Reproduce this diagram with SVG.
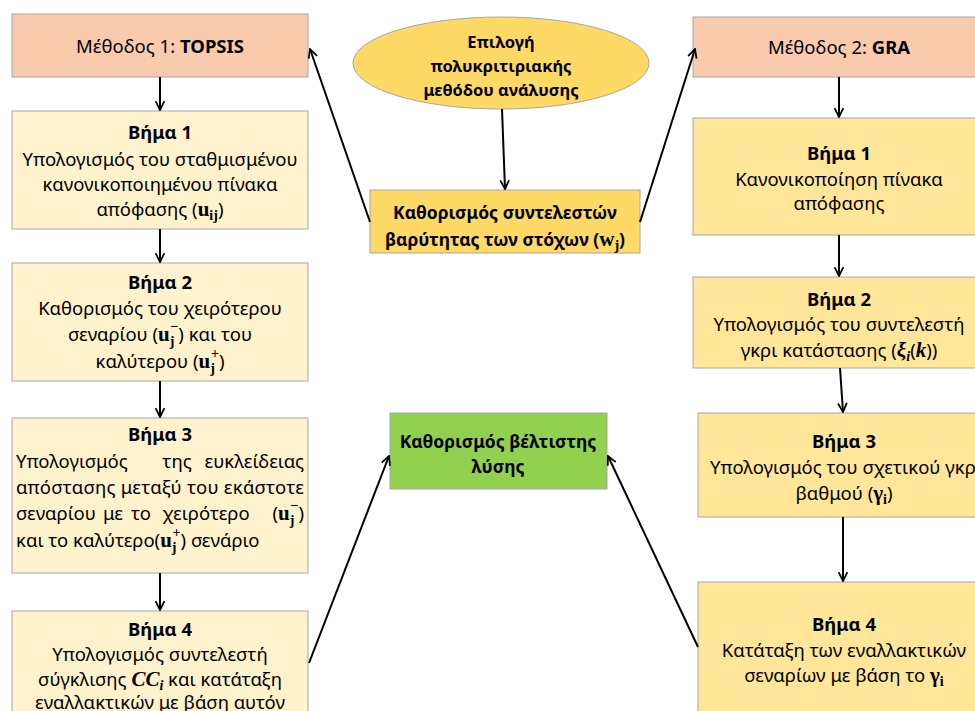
<svg xmlns="http://www.w3.org/2000/svg" width="975" height="711" viewBox="0 0 975 711">
<style>
.box{stroke:#A6A6A6;stroke-width:1}
.peach{fill:#F8CBAD}
.ly{fill:#FFF2CC}
.gy{fill:#FFE699}
.gold{fill:#FFD966}
.green{fill:#92D050}
.t{font-family:"Noto Sans","Open Sans",sans-serif;font-size:18.5px;fill:#000;text-anchor:middle}
.e{font-size:16.5px}
.cb{font-size:17.5px}
.l{text-anchor:start}
.r{text-anchor:end}
.b{font-weight:bold}
.m{font-family:"Liberation Serif","DejaVu Serif",serif;font-weight:bold;font-size:21px}
.mi{font-style:italic}
.s{font-size:14px}
.c{fill:none;stroke:#000;stroke-width:2}
</style>
<defs>
<marker id="ah" viewBox="0 0 10 10" refX="9" refY="5" markerWidth="11" markerHeight="13" markerUnits="userSpaceOnUse" orient="auto">
<path d="M1,1 L9,5 L1,9" fill="none" stroke="#000" stroke-width="1.6"/>
</marker>
</defs>
<rect width="975" height="711" fill="#fff"/>

<g id="method1">
<rect class="box peach" x="12" y="14" width="296" height="63"/>
<text class="t" x="160" y="53">Μέθοδος 1: <tspan class="b">TOPSIS</tspan></text>
</g>

<g id="l-step1">
<rect class="box ly" x="12" y="111" width="296" height="118"/>
<text class="t b" x="160" y="139">Βήμα 1</text>
<text class="t" x="160" y="166">Υπολογισμός του σταθμισμένου</text>
<text class="t" x="160" y="191">κανονικοποιημένου πίνακα</text>
<text class="t" x="160" y="216">απόφασης  (<tspan class="m">u</tspan><tspan class="m s" dy="4">ij</tspan><tspan dy="-4">)</tspan></text>
</g>

<g id="l-step2">
<rect class="box ly" x="12" y="263" width="296" height="118"/>
<text class="t b" x="160" y="289">Βήμα 2</text>
<text class="t" x="160" y="315">Καθορισμός του χειρότερου</text>
<text class="t" x="160" y="341">σεναρίου (<tspan class="m">u</tspan><tspan class="m s" dy="5">j</tspan><tspan class="m s" dx="-4" dy="-15">−</tspan><tspan dy="10">)  και του</tspan></text>
<text class="t" x="160" y="368">καλύτερου (<tspan class="m">u</tspan><tspan class="m s" dy="5">j</tspan><tspan class="m s" dx="-4" dy="-15">+</tspan><tspan dy="10">)</tspan></text>
</g>

<g id="l-step3">
<rect class="box ly" x="12" y="418" width="296" height="155"/>
<text class="t b" x="160" y="441">Βήμα 3</text>
<text class="t l" x="16" y="468">Υπολογισμός</text>
<text class="t" x="177" y="468">της</text>
<text class="t r" x="304" y="468">ευκλείδειας</text>
<text class="t l" x="16" y="494" textLength="288" lengthAdjust="spacing">απόστασης μεταξύ του εκάστοτε</text>
<text class="t l" x="16" y="520">σεναρίου</text>
<text class="t" x="113" y="520">με</text>
<text class="t" x="141" y="520">το</text>
<text class="t" x="206" y="520">χειρότερο</text>
<text class="t r" x="304" y="520">(<tspan class="m">u</tspan><tspan class="m s" dy="5">j</tspan><tspan class="m s" dx="-4" dy="-15">−</tspan><tspan dy="10">)</tspan></text>
<text class="t l" x="16" y="547">και το καλύτερο(<tspan class="m">u</tspan><tspan class="m s" dy="5">j</tspan><tspan class="m s" dx="-4" dy="-15">+</tspan><tspan dy="10">) σενάριο</tspan></text>
</g>

<g id="l-step4">
<rect class="box ly" x="12" y="611" width="296" height="110"/>
<text class="t b" x="160" y="636">Βήμα 4</text>
<text class="t" x="160" y="661">Υπολογισμός συντελεστή</text>
<text class="t" x="160" y="686">σύγκλισης  <tspan class="m mi">CC</tspan><tspan class="m mi s" dy="4">i</tspan><tspan dy="-4"> και κατάταξη</tspan></text>
<text class="t" x="160" y="709">εναλλακτικών με βάση αυτόν</text>
</g>

<g id="select">
<ellipse class="box gold" cx="501" cy="63" rx="148" ry="46"/>
<text class="t e b" x="501" y="48">Επιλογή</text>
<text class="t e b" x="501" y="72">πολυκριτιριακής</text>
<text class="t e b" x="501" y="96">μεθόδου ανάλυσης</text>
</g>

<g id="weights">
<rect class="box gold" x="370" y="190" width="270" height="63"/>
<text class="t cb b" x="505" y="219">Καθορισμός συντελεστών</text>
<text class="t cb b" x="505" y="246">βαρύτητας των στόχων (<tspan class="m" font-weight="normal">w</tspan><tspan class="m s" font-weight="normal" dy="4">j</tspan><tspan dy="-4">)</tspan></text>
</g>

<g id="optimal">
<rect class="box green" x="390" y="413" width="217" height="76"/>
<text class="t cb b" x="498" y="448">Καθορισμός βέλτιστης</text>
<text class="t cb b" x="498" y="473">λύσης</text>
</g>

<g id="method2">
<rect class="box peach" x="693" y="17" width="292" height="60"/>
<text class="t" x="839" y="54">Μέθοδος 2: <tspan class="b">GRA</tspan></text>
</g>

<g id="r-step1">
<rect class="box gy" x="693" y="118" width="292" height="117"/>
<text class="t b" x="839" y="160">Βήμα 1</text>
<text class="t" x="839" y="186">Κανονικοποίηση πίνακα</text>
<text class="t" x="839" y="210">απόφασης</text>
</g>

<g id="r-step2">
<rect class="box gy" x="693" y="277" width="292" height="91"/>
<text class="t b" x="839" y="306">Βήμα 2</text>
<text class="t" x="839" y="331">Υπολογισμός του συντελεστή</text>
<text class="t" x="839" y="357">γκρι κατάστασης (<tspan class="m mi">ξ</tspan><tspan class="m mi s" dy="4">i</tspan><tspan dy="-4">(</tspan><tspan class="m mi">k</tspan>))</text>
</g>

<g id="r-step3">
<rect class="box gy" x="698" y="413" width="292" height="104"/>
<text class="t b" x="844" y="448">Βήμα 3</text>
<text class="t" x="846" y="474">Υπολογισμός του σχετικού γκρι</text>
<text class="t" x="844" y="500">βαθμού (<tspan class="m">γ</tspan><tspan class="m s" dy="4">i</tspan><tspan dy="-4">)</tspan></text>
</g>

<g id="r-step4">
<rect class="box gy" x="698" y="582" width="292" height="140"/>
<text class="t b" x="844" y="631">Βήμα 4</text>
<text class="t" x="844" y="657">Κατάταξη των εναλλακτικών</text>
<text class="t" x="844" y="682">σεναρίων με βάση το <tspan class="m">γ</tspan><tspan class="m s" dy="4">i</tspan></text>
</g>

<g id="connectors">
<line class="c" x1="160" y1="77" x2="160" y2="110" marker-end="url(#ah)"/>
<line class="c" x1="160" y1="229" x2="160" y2="262" marker-end="url(#ah)"/>
<line class="c" x1="160" y1="381" x2="160" y2="417" marker-end="url(#ah)"/>
<line class="c" x1="160" y1="573" x2="160" y2="610" marker-end="url(#ah)"/>
<line class="c" x1="502" y1="109" x2="505" y2="189" marker-end="url(#ah)"/>
<line class="c" x1="370" y1="222" x2="310" y2="49" marker-end="url(#ah)"/>
<line class="c" x1="640" y1="222" x2="695" y2="49" marker-end="url(#ah)"/>
<line class="c" x1="839" y1="77" x2="839" y2="117" marker-end="url(#ah)"/>
<line class="c" x1="839" y1="235" x2="839" y2="276" marker-end="url(#ah)"/>
<line class="c" x1="840" y1="368" x2="843" y2="412" marker-end="url(#ah)"/>
<line class="c" x1="843" y1="517" x2="843" y2="581" marker-end="url(#ah)"/>
<line class="c" x1="309" y1="663" x2="389" y2="456" marker-end="url(#ah)"/>
<line class="c" x1="698" y1="647" x2="608" y2="456" marker-end="url(#ah)"/>
</g>
</svg>
